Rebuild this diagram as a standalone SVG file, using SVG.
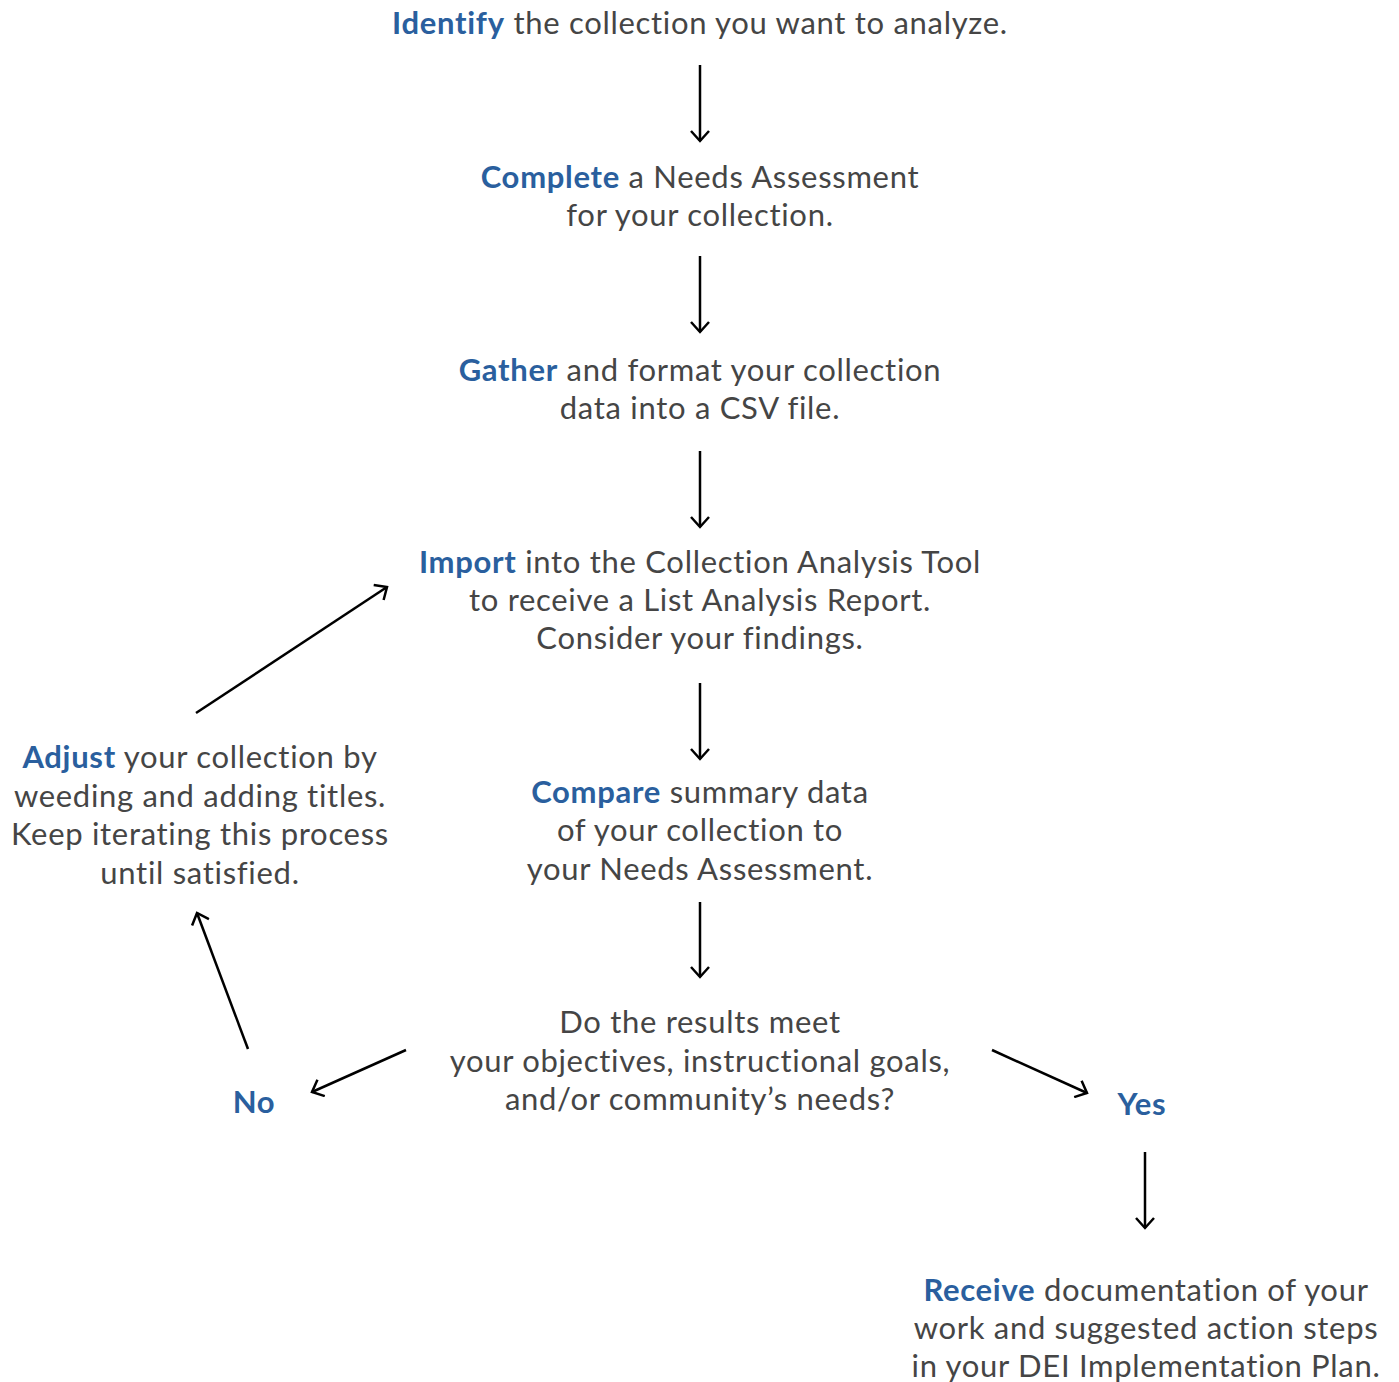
<svg xmlns="http://www.w3.org/2000/svg" width="1399" height="1382" viewBox="0 0 1399 1382">
<defs>
<style>
text{font-family:"Lato","Noto Sans",sans-serif;font-size:31px;letter-spacing:0.7px;fill:#454545;text-anchor:middle}
.b{fill:#2a5f9e;font-weight:bold}
.c{stroke:#000;stroke-width:2.5;fill:none}
</style>
<marker id="a" viewBox="0 0 20 20" refX="17" refY="10" markerWidth="20" markerHeight="20" markerUnits="userSpaceOnUse" orient="auto">
<path d="M7,1 L17,10 L7,19" fill="none" stroke="#000" stroke-width="2.5"/>
</marker>
</defs>
<rect width="1399" height="1382" fill="#fff"/>
<g id="connectors">
<line class="c" x1="700" y1="65" x2="700" y2="141" marker-end="url(#a)"/>
<line class="c" x1="700" y1="256" x2="700" y2="332" marker-end="url(#a)"/>
<line class="c" x1="700" y1="451" x2="700" y2="527" marker-end="url(#a)"/>
<line class="c" x1="700" y1="683" x2="700" y2="759" marker-end="url(#a)"/>
<line class="c" x1="700" y1="902" x2="700" y2="977" marker-end="url(#a)"/>
<line class="c" x1="1145" y1="1152" x2="1145" y2="1228" marker-end="url(#a)"/>
<line class="c" x1="196" y1="713" x2="387" y2="587" marker-end="url(#a)"/>
<line class="c" x1="248" y1="1049" x2="197" y2="913" marker-end="url(#a)"/>
<line class="c" x1="406" y1="1050" x2="312" y2="1092" marker-end="url(#a)"/>
<line class="c" x1="992" y1="1050" x2="1087" y2="1093" marker-end="url(#a)"/>
</g>
<g id="identify"><text x="700" y="34"><tspan class="b">Identify</tspan> the collection you want to analyze.</text></g>
<g id="complete"><text x="700" y="188"><tspan class="b">Complete</tspan> a Needs Assessment</text><text x="700" y="226">for your collection.</text></g>
<g id="gather"><text x="700" y="381"><tspan class="b">Gather</tspan> and format your collection</text><text x="700" y="419">data into a CSV file.</text></g>
<g id="import"><text x="700" y="573"><tspan class="b">Import</tspan> into the Collection Analysis Tool</text><text x="700" y="611">to receive a List Analysis Report.</text><text x="700" y="649">Consider your findings.</text></g>
<g id="compare"><text x="700" y="803"><tspan class="b">Compare</tspan> summary data</text><text x="700" y="841">of your collection to</text><text x="700" y="880">your Needs Assessment.</text></g>
<g id="decision"><text x="700" y="1033">Do the results meet</text><text x="700" y="1072">your objectives, instructional goals,</text><text x="700" y="1110">and/or community’s needs?</text></g>
<g id="no"><text x="254" y="1113" class="b">No</text></g>
<g id="yes"><text x="1142" y="1115" class="b">Yes</text></g>
<g id="adjust"><text x="200" y="768"><tspan class="b">Adjust</tspan> your collection by</text><text x="200" y="807">weeding and adding titles.</text><text x="200" y="845">Keep iterating this process</text><text x="200" y="884">until satisfied.</text></g>
<g id="receive"><text x="1146" y="1301"><tspan class="b">Receive</tspan> documentation of your</text><text x="1146" y="1339">work and suggested action steps</text><text x="1146" y="1377">in your DEI Implementation Plan.</text></g>
</svg>
